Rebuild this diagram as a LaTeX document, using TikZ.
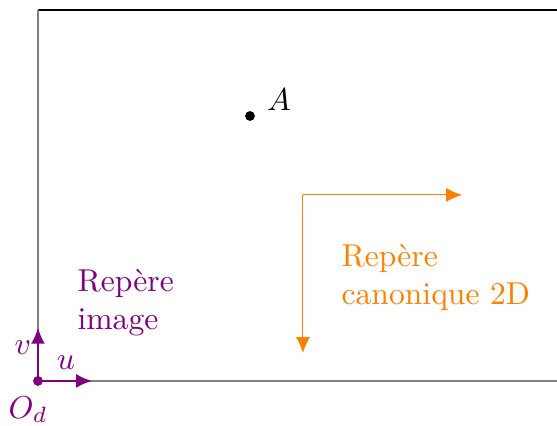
\documentclass[tikz,border=0pt]{standalone}
\usepackage{tikz}
\usetikzlibrary{arrows.meta,positioning}
\tikzset{point/.style={circle,fill,inner sep=1.1pt},
    axeimage/.style={violet,semithick,-{Latex[length=5pt,width=4.4pt]}},
    axecanon/.style={orange,line width=0.3pt,-{Latex[length=5pt,width=4.4pt]}},
    bord/.style={gray,semithick},
    }

\begin{document}
\begin{tikzpicture}
	\useasboundingbox (-0.422,-0.5) rectangle (5.767,4.233);
	% cadre de l'image
	\coordinate (hg) at (0,4.122);
	\coordinate (hd) at (5.767,4.122);
	\coordinate (bd) at (5.767,0);
	\draw[black,thin] (hg) -- (hd);
	% repere image
	\node[point,violet] (od) at (0,0) {};
	\draw[bord] (od.center) -- (bd);
	\draw[bord] (od.center) -- (hg);
	\coordinate (u) at (0.6,0);
	\coordinate (v) at (0,0.59);
	\draw[axeimage] (od.center) -- (u);
	\draw[axeimage] (od.center) -- (v);
	\node[violet] (lu) at (0.311,0.2) {$u$};
	\node[violet] (lv) at (-0.167,0.367) {$v$};
	\node[violet] (lod) at (-0.11,-0.32) {$O_d$};
	\node[violet,align=left,anchor=base west,inner sep=0] (timage) at (0.433,0.57) {Rep\`ere\\image};
	% repere canonique
	\coordinate (oc) at (2.944,2.067);
	\coordinate (xc) at (4.711,2.067);
	\coordinate (yc) at (2.944,0.311);
	\draw[axecanon] (oc) -- (xc);
	\draw[axecanon] (oc) -- (yc);
	\node[orange,align=left,anchor=base west,inner sep=0] (tcanon) at (3.367,0.85) {Rep\`ere\\canonique 2D};
	% point A
	\node[point] (a) at (2.356,2.944) {};
	\node[inner sep=0,above right=0.005cm and 0.14cm of a] (la) {$A$};
\end{tikzpicture}
\end{document}
